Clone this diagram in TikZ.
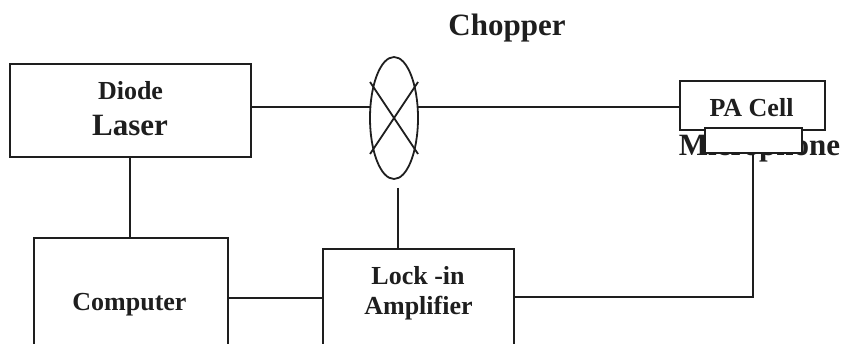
\documentclass[tikz,border=0pt]{standalone}
\usepackage{fontspec}
\setmainfont{Liberation Serif}
\usetikzlibrary{shapes.geometric}
\definecolor{ink}{HTML}{1E1E1E}
\begin{document}
\begin{tikzpicture}[x=1pt,y=-1pt,
  line width=1.8pt, draw=ink,
  box/.style={draw=ink, line width=1.8pt, rectangle, inner sep=0pt, outer sep=0pt},
  txt/.style={anchor=base, inner sep=0pt, text=ink, font=\bfseries\fontsize{26}{30}\selectfont},
  bigtxt/.style={txt, font=\bfseries\fontsize{31}{36}\selectfont},
  wire/.style={draw=ink, line width=1.8pt}]
\useasboundingbox (0,0) rectangle (845,344);
\clip (0,0) rectangle (845,344);
% boxes
\node[box, minimum width=241pt, minimum height=93pt] (dl) at (130.5,110.5) {};
\node[box, minimum width=194pt, minimum height=140pt] (comp) at (131,308) {};
\node[box, minimum width=191pt, minimum height=130pt] (lock) at (418.5,314) {};
\node[box, minimum width=145pt, minimum height=49pt] (pa) at (752.5,105.5) {};
\node[draw=ink, line width=1.8pt, ellipse, inner sep=0pt, outer sep=0pt, minimum width=48pt, minimum height=122pt] (chop) at (394,118) {};
% texts
\node[txt] (tdiode) at (130.5,100) {Diode};
\node[bigtxt] (tlaser) at (130,136) {Laser};
\node[txt] (tcomp) at (129.5,310) {Computer};
\node[bigtxt] (tchop) at (507,36) {Chopper};
\node[txt] (tlock) at (418,285) {Lock -in};
\node[txt] (tamp) at (418.5,315) {Amplifier};
\node[txt] (tpa) at (751.5,117) {PA Cell};
\node[bigtxt] (tmic) at (759.5,156) {Microphone};
% microphone box over the text
\node[box, fill=white, minimum width=97pt, minimum height=25pt] (mic) at (753.5,140.5) {};
% chopper blades
\coordinate (x1) at (370,82);
\coordinate (x2) at (418,154);
\coordinate (x3) at (418,82);
\coordinate (x4) at (370,154);
\draw[wire] (x1) -- (x2);
\draw[wire] (x3) -- (x4);
% connectors
\coordinate (beam) at (0,107);
\draw[wire] (dl.east |- beam) -- (chop.west |- beam);
\draw[wire] (chop.east |- beam) -- (pa.west |- beam);
\draw[wire] (dl.south -| 130,0) -- (comp.north -| 130,0);
\coordinate (sig) at (0,298);
\draw[wire] (comp.east |- sig) -- (lock.west |- sig);
\coordinate (ref) at (398,188);
\draw[wire] (ref) -- (lock.north -| ref);
\coordinate (mout) at (753,297);
\draw[wire] (lock.east |- mout) -- (mout) -- (mout |- mic.south);
\end{tikzpicture}
\end{document}
